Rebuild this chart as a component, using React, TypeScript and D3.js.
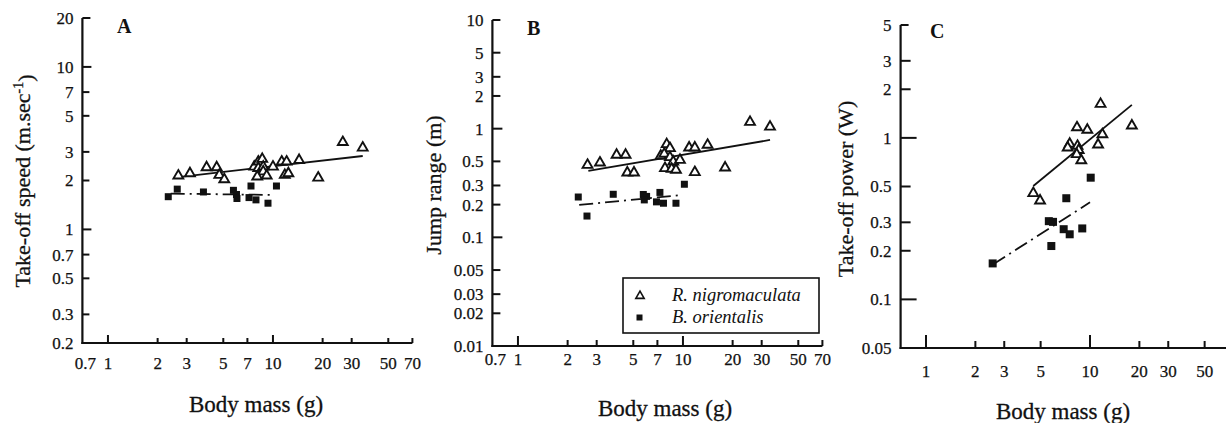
import React, { useEffect, useRef } from "react";
import * as d3 from "d3";

// tick values
const massTicks = [0.7, 1, 2, 3, 5, 7, 10, 20, 30, 50, 70];
const massTicksC = [1, 2, 3, 5, 10, 20, 30, 50];
const speedTicks = [20, 10, 7, 5, 3, 2, 1, 0.7, 0.5, 0.3, 0.2];
const rangeTicks = [10, 5, 3, 2, 1, 0.5, 0.3, 0.2, 0.1, 0.05, 0.03, 0.02, 0.01];
const powerTicks = [5, 3, 2, 1, 0.5, 0.3, 0.2, 0.1, 0.05];

// [body mass (g), value]  -- R. nigromaculata = triangles, B. orientalis = squares
const speedRana = [
  [2.67, 2.14], [3.14, 2.21], [3.96, 2.41], [4.56, 2.41], [4.73, 2.16], [5.07, 2.03],
  [7.7, 2.43], [8.15, 2.61], [8.61, 2.71], [8.15, 2.38], [8.73, 2.43], [8.73, 2.27],
  [8.03, 2.11], [9.16, 2.14], [10.0, 2.43], [11.3, 2.61], [12.1, 2.61], [11.8, 2.16],
  [12.4, 2.21], [14.4, 2.67], [18.8, 2.08], [26.5, 3.44], [35.0, 3.18]
];
const speedBufo = [
  [2.32, 1.59], [2.63, 1.77], [3.79, 1.7], [5.76, 1.74], [6.01, 1.64], [6.05, 1.55],
  [7.36, 1.85], [7.16, 1.57], [7.89, 1.52], [9.33, 1.45], [10.5, 1.85]
];
const rangeRana = [
  [2.64, 0.463], [3.14, 0.486], [3.96, 0.573], [4.49, 0.573], [4.6, 0.394], [5.05, 0.394],
  [7.33, 0.561], [7.97, 0.718], [8.34, 0.66], [7.7, 0.585], [8.34, 0.545], [8.73, 0.497],
  [7.78, 0.432], [8.54, 0.426], [9.07, 0.417], [9.59, 0.515], [10.9, 0.668], [11.8, 0.668],
  [11.8, 0.397], [14.1, 0.708], [18.0, 0.438], [25.5, 1.15], [33.7, 1.04]
];
const rangeBufo = [
  [2.32, 0.235], [2.62, 0.157], [3.78, 0.249], [5.75, 0.248], [6.02, 0.238], [5.83, 0.221],
  [7.25, 0.259], [6.91, 0.212], [7.62, 0.206], [9.07, 0.206], [10.2, 0.308]
];
const powerRana = [
  [11.6, 1.62], [8.33, 1.16], [9.63, 1.12], [18.0, 1.19], [11.9, 1.05], [11.2, 0.908],
  [7.52, 0.917], [7.31, 0.87], [8.39, 0.891], [8.53, 0.839], [8.3, 0.791], [8.85, 0.726],
  [4.51, 0.454], [4.96, 0.409]
];
const powerBufo = [
  [10.1, 0.567], [7.17, 0.423], [5.61, 0.305], [5.95, 0.302], [6.91, 0.272], [7.52, 0.253],
  [8.97, 0.275], [5.81, 0.214], [2.55, 0.167]
];

// regression line end points
const speedRanaFit = [[2.67, 2.1], [35, 2.83]];
const speedBufoFit = [[2.4, 1.66], [10.2, 1.63]];
const rangeRanaFit = [[2.67, 0.408], [33.7, 0.787]];
const rangeBufoFit = [[2.35, 0.199], [9.8, 0.245]];
const powerRanaFit = [[4.51, 0.504], [18, 1.6]];
const powerBufoFit = [[2.57, 0.165], [10, 0.399]];

const FONT = "'Liberation Serif', 'Times New Roman', serif";
const INK = "#111";

const panels = [
  {
    letter: "A", letterX: 117, letterY: 33,
    xr: [82.4, 412.4], yr: [343, 18], ydom: [0.2, 20], xTicks: massTicks, yTicks: speedTicks,
    xMaj: 8, xMin: 5, yMaj: 9, yMin: 7, xLabelY: 363, titleY: 404, titleX: 256,
    yTitleX: 22, yTitleY: 181, yTitle: "speed",
    rana: speedRana, bufo: speedBufo, ranaFit: speedRanaFit, bufoFit: speedBufoFit, sq: 7
  },
  {
    letter: "B", letterX: 527, letterY: 35,
    xr: [492.4, 822.4], yr: [346, 20], ydom: [0.01, 10], xTicks: massTicks, yTicks: rangeTicks,
    xMaj: 10, xMin: 6, yMaj: 10, yMin: 8, xLabelY: 359, titleY: 408, titleX: 665,
    yTitleX: 433, yTitleY: 185, yTitle: "Jump range (m)",
    rana: rangeRana, bufo: rangeBufo, ranaFit: rangeRanaFit, bufoFit: rangeBufoFit, sq: 7
  },
  {
    letter: "C", letterX: 930, letterY: 38,
    xr: [900.6, 1228.6], yr: [348, 25], ydom: [0.05, 5], xTicks: massTicksC, yTicks: powerTicks,
    xMaj: 13, xMin: 7, yMaj: 16, yMin: 10, xLabelY: 371, titleY: 411, titleX: 1063,
    yTitleX: 845, yTitleY: 189, yTitle: "Take-off power (W)",
    rana: powerRana, bufo: powerBufo, ranaFit: powerRanaFit, bufoFit: powerBufoFit, sq: 8
  }
];

const isMajor = (v: number) => Math.abs(Math.log10(v) - Math.round(Math.log10(v))) < 1e-6;

export default function App() {
  const ref = useRef<SVGSVGElement>(null);

  useEffect(() => {
    const svg = d3.select(ref.current);
    svg.selectAll("*").remove();

    panels.forEach(p => {
      const x = d3.scaleLog().domain([0.7, 70]).range(p.xr);
      const y = d3.scaleLog().domain(p.ydom).range(p.yr);
      const g = svg.append("g");
      const x0 = p.xr[0];
      const yBottom = p.yr[0];
      const yTop = p.yr[1];

      // axes
      g.append("line").attr("x1", x0).attr("x2", x0).attr("y1", yTop).attr("y2", yBottom + 1)
        .attr("stroke", INK).attr("stroke-width", 2.2);
      g.append("line").attr("x1", x0 - 1).attr("x2", Math.min(p.xr[1], 1226)).attr("y1", yBottom).attr("y2", yBottom)
        .attr("stroke", INK).attr("stroke-width", 2.2);

      g.selectAll(".yt").data(p.yTicks).enter().append("line")
        .attr("x1", x0).attr("x2", d => x0 + (d === p.ydom[1] ? 8 : isMajor(d) ? p.yMaj : p.yMin))
        .attr("y1", d => y(d)).attr("y2", d => y(d))
        .attr("stroke", INK).attr("stroke-width", 2);
      g.selectAll(".yl").data(p.yTicks).enter().append("text")
        .attr("x", x0 - 9).attr("y", d => y(d)).attr("dy", "0.35em")
        .attr("text-anchor", "end").attr("font-family", FONT).attr("font-size", 17)
        .attr("fill", INK).attr("stroke", INK).attr("stroke-width", 0.25)
        .text(d => String(d));

      g.selectAll(".xt").data(p.xTicks.filter(d => d !== 0.7)).enter().append("line")
        .attr("x1", d => x(d)).attr("x2", d => x(d))
        .attr("y1", yBottom).attr("y2", d => yBottom - (isMajor(d) ? p.xMaj : p.xMin))
        .attr("stroke", INK).attr("stroke-width", 2);
      g.selectAll(".xl").data(p.xTicks).enter().append("text")
        .attr("x", d => x(d) + (d === 0.7 ? 3 : 0)).attr("y", p.xLabelY).attr("dy", "0.35em")
        .attr("text-anchor", "middle").attr("font-family", FONT).attr("font-size", 17)
        .attr("fill", INK).attr("stroke", INK).attr("stroke-width", 0.25)
        .text(d => String(d));

      // titles
      g.append("text").attr("x", p.titleX).attr("y", p.titleY).attr("dy", "0.35em")
        .attr("text-anchor", "middle").attr("font-family", FONT).attr("font-size", 23)
        .attr("fill", INK).attr("stroke", INK).attr("stroke-width", 0.3)
        .text("Body mass (g)");
      const yt = g.append("text")
        .attr("transform", `translate(${p.yTitleX},${p.yTitleY}) rotate(-90)`)
        .attr("dy", "0.35em").attr("text-anchor", "middle")
        .attr("font-family", FONT).attr("font-size", 22)
        .attr("fill", INK).attr("stroke", INK).attr("stroke-width", 0.3);
      if (p.yTitle === "speed") {
        yt.append("tspan").text("Take-off speed (m.sec");
        yt.append("tspan").attr("dy", "-0.45em").attr("font-size", 14).text("-1");
        yt.append("tspan").attr("dy", "0.45em").text(")");
      } else {
        yt.text(p.yTitle);
      }
      g.append("text").attr("x", p.letterX).attr("y", p.letterY)
        .attr("font-family", FONT).attr("font-size", 20).attr("font-weight", "bold")
        .attr("fill", INK)
        .text(p.letter);

      // fitted lines
      const line = d3.line<number[]>().x(d => x(d[0])).y(d => y(d[1]));
      g.append("path").attr("d", line(p.ranaFit)).attr("fill", "none")
        .attr("stroke", INK).attr("stroke-width", 1.8);
      g.append("path").attr("d", line(p.bufoFit)).attr("fill", "none")
        .attr("stroke", INK).attr("stroke-width", 1.8).attr("stroke-dasharray", "14,5,2,5");

      // points
      const tri = d3.symbol().type(d3.symbolTriangle).size(42);
      g.selectAll(".sq").data(p.bufo).enter().append("rect")
        .attr("x", d => x(d[0]) - p.sq / 2).attr("y", d => y(d[1]) - p.sq / 2)
        .attr("width", p.sq).attr("height", p.sq).attr("fill", INK);
      g.selectAll(".tr").data(p.rana).enter().append("path")
        .attr("d", tri).attr("transform", d => `translate(${x(d[0])},${y(d[1])})`)
        .attr("fill", "white").attr("stroke", INK).attr("stroke-width", 1.9);

      // legend in panel B
      if (p.letter === "B") {
        const lg = g.append("g");
        lg.append("rect").attr("x", 623).attr("y", 278).attr("width", 196).attr("height", 55)
          .attr("fill", "white").attr("stroke", INK).attr("stroke-width", 1.6);
        lg.append("path").attr("d", d3.symbol().type(d3.symbolTriangle).size(30))
          .attr("transform", "translate(640,296)")
          .attr("fill", "white").attr("stroke", INK).attr("stroke-width", 1.6);
        lg.append("rect").attr("x", 636.5).attr("y", 314.5).attr("width", 6).attr("height", 6).attr("fill", INK);
        lg.append("text").attr("x", 672).attr("y", 295).attr("dy", "0.35em")
          .attr("font-family", FONT).attr("font-style", "italic").attr("font-size", 18.5)
          .attr("fill", INK)
          .text("R. nigromaculata");
        lg.append("text").attr("x", 672).attr("y", 317).attr("dy", "0.35em")
          .attr("font-family", FONT).attr("font-style", "italic").attr("font-size", 18.5)
          .attr("fill", INK)
          .text("B. orientalis");
      }
    });
  }, []);

  return (
    <svg ref={ref} width={1226} height={423}
      style={{ position: "absolute", left: 0, top: 0, background: "white" }} />
  );
}
